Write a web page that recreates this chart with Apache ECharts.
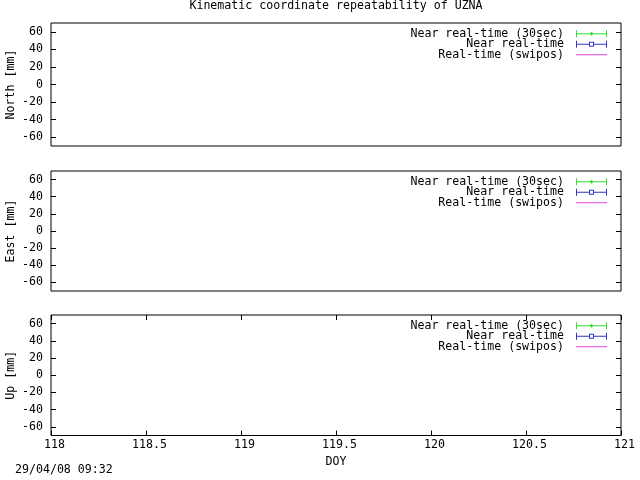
<!DOCTYPE html>
<html><head><meta charset="utf-8">
<script src="https://cdn.jsdelivr.net/npm/echarts@6/dist/echarts.min.js"></script>
<style>html,body{margin:0;padding:0;background:#fff}#c{width:640px;height:480px}</style>
</head><body><div id="c"></div>
<script>
const titleText = 'Kinematic coordinate repeatability of UZNA';
const dateText = '29/04/08 09:32';
const panelNames = ['North [mm]', 'East [mm]', 'Up [mm]'];
const xName = 'DOY';
const seriesNames = ['Near real-time (30sec)', 'Near real-time', 'Real-time (swipos)'];
const seriesColors = ['#33dd33', '#3535c8', '#dd44dd'];
const xTicks = [118, 118.5, 119, 119.5, 120, 120.5, 121];
const yTicks = [-60, -40, -20, 0, 20, 40, 60];
const xRange = [118, 121];
const yRange = [-70, 70];
// The reference shows no plotted points: every series is empty.
const northNear30 = [], northNear = [], northRT = [];
const eastNear30 = [], eastNear = [], eastRT = [];
const upNear30 = [], upNear = [], upRT = [];
const panelData = [[northNear30, northNear, northRT], [eastNear30, eastNear, eastRT], [upNear30, upNear, upRT]];

const FONT = 'DejaVu Sans Mono';
const FS = 11.6;
const tops = [23, 171, 315];
const heights = [123, 120, 120.5];
const icons = [
  'path://M0,3h31v1h-31z M0,0h1v7h-1z M30,0h1v7h-1z M15.5,1.5l2,2l-2,2l-2,-2z',
  'path://M0,3h13v1h-13z M18,3h13v1h-13z M0,0h1v7h-1z M30,0h1v7h-1z M13,1h5v5h-5z M14,2v3h3v-3z',
  'path://M0,3h31v1h-31z M0,0L0.01,0z M0,7L0.01,7z'
];

const grids = [], xAxes = [], yAxes = [], series = [], legends = [];
for (let i = 0; i < 3; i++) {
  grids.push({left: 51, right: 19, top: tops[i], height: heights[i], show: true,
    borderColor: '#000', borderWidth: 1, backgroundColor: 'transparent',
    containLabel: false, outerBoundsMode: 'none'});
  const last = i === 2;
  xAxes.push({type: 'value', gridIndex: i, min: xRange[0], max: xRange[1], position: 'bottom',
    axisLine: {show: false, onZero: false}, splitLine: {show: false},
    axisTick: {show: last, inside: true, length: 5, customValues: xTicks, lineStyle: {color: '#000'}},
    axisLabel: {show: last, customValues: xTicks, margin: 3, color: '#000', fontFamily: FONT, fontSize: FS, padding: [0, 0, 0, 7]},
    name: last ? xName : '', nameLocation: 'middle', nameGap: 20, nameMoveOverlap: false,
    nameTextStyle: {color: '#000', fontFamily: FONT, fontSize: FS}});
  yAxes.push({type: 'value', gridIndex: i, min: yRange[0], max: yRange[1], position: 'left',
    axisLine: {show: false, onZero: false}, splitLine: {show: false},
    axisTick: {show: true, inside: true, length: 5, customValues: yTicks, lineStyle: {color: '#000'}},
    axisLabel: {customValues: yTicks, margin: 8, color: '#000', fontFamily: FONT, fontSize: FS},
    name: panelNames[i], nameLocation: 'middle', nameGap: 34, nameMoveOverlap: false,
    nameTextStyle: {color: '#000', fontFamily: FONT, fontSize: FS}});
  yAxes.push({type: 'value', gridIndex: i, min: yRange[0], max: yRange[1], position: 'right',
    axisLine: {show: false, onZero: false}, splitLine: {show: false},
    axisTick: {show: true, inside: true, length: 5, customValues: yTicks, lineStyle: {color: '#000'}},
    axisLabel: {show: false}});
  for (let s = 0; s < 3; s++) {
    series.push({type: 'line', name: seriesNames[s], xAxisIndex: i, yAxisIndex: 2 * i,
      data: panelData[i][s], color: seriesColors[s], lineStyle: {width: 1}, symbolSize: 5, animation: false});
  }
  legends.push({orient: 'vertical', align: 'right', right: 33, top: tops[i] + 4.75, padding: 0,
    itemWidth: 31, itemHeight: 7, itemGap: -1.5, selectedMode: false, symbolKeepAspect: false,
    textStyle: {color: '#000', fontFamily: FONT, fontSize: FS, lineHeight: 10.5, padding: [0, 7, 0, 0]},
    data: seriesNames.map((n, k) => ({name: n, icon: icons[k]}))});
}
// top mirror ticks for the bottom panel
xAxes.push({type: 'value', gridIndex: 2, min: xRange[0], max: xRange[1], position: 'top',
  axisLine: {show: false, onZero: false}, splitLine: {show: false},
  axisTick: {show: true, inside: true, length: 5, customValues: xTicks, lineStyle: {color: '#000'}},
  axisLabel: {show: false}});

const chart = echarts.init(document.getElementById('c'));
chart.setOption({
  animation: false,
  backgroundColor: '#fff',
  title: [
    {text: titleText, left: 336, top: 0, textAlign: 'center', padding: 0,
      textStyle: {color: '#000', fontFamily: FONT, fontSize: FS, fontWeight: 'normal'}},
    {text: dateText, left: 15, top: 464, padding: 0,
      textStyle: {color: '#000', fontFamily: FONT, fontSize: FS, fontWeight: 'normal'}}
  ],
  legend: legends,
  grid: grids,
  xAxis: xAxes,
  yAxis: yAxes,
  series: series
});
</script></body></html>
